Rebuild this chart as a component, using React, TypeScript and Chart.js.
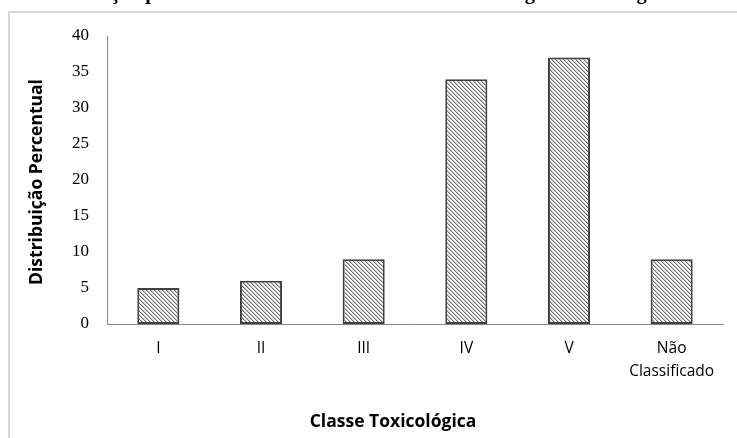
import React, { useEffect, useRef } from 'react';
import { Chart, registerables } from 'chart.js';

Chart.register(...registerables);

const categories: (string | string[])[] = ['I', 'II', 'III', 'IV', 'V', ['Não', 'Classificado']];
const values: number[] = [5, 6, 9, 34, 37, 9];
const yTicks: number[] = [0, 5, 10, 15, 20, 25, 30, 35, 40];
const chartTitle = 'Distribuição percentual dos defensivos utilizados como agrotóxicos segundo a classe toxicológica';
const xTitle = 'Classe Toxicológica';
const yTitle = 'Distribuição Percentual';

function makePattern(): CanvasPattern | string {
  const c = document.createElement('canvas');
  c.width = 4;
  c.height = 4;
  const g = c.getContext('2d');
  if (!g) return '#bbbbbb';
  g.fillStyle = '#ffffff';
  g.fillRect(0, 0, 4, 4);
  for (let i = 0; i < 4; i++) {
    g.fillStyle = '#6e6e6e';
    g.fillRect(i, i, 1, 1);
    g.fillStyle = '#c2c2c2';
    g.fillRect((i + 1) % 4, i, 1, 1);
  }
  return g.createPattern(c, 'repeat') || '#bbbbbb';
}

const decorPlugin = {
  id: 'decor',
  beforeDraw(chart: any) {
    const ctx = chart.ctx as CanvasRenderingContext2D;
    ctx.save();
    ctx.strokeStyle = '#d9d9d9';
    ctx.lineWidth = 2;
    ctx.strokeRect(9, 12, 2000, 2000);
    ctx.restore();
  },
  afterDraw(chart: any) {
    const ctx = chart.ctx as CanvasRenderingContext2D;
    ctx.save();
    // cropped chart title (only its lower part is visible)
    ctx.fillStyle = '#000000';
    ctx.font = 'bold 20.5px "Liberation Serif", "Times New Roman", serif';
    ctx.textAlign = 'left';
    ctx.textBaseline = 'alphabetic';
    ctx.fillText(chartTitle, 32, -1);

    // x axis title
    ctx.font = 'bold 17.5px "Open Sans", sans-serif';
    ctx.textAlign = 'center';
    ctx.textBaseline = 'middle';
    ctx.fillText(xTitle, 393, 422);

    // y axis title
    ctx.translate(37, 182);
    ctx.rotate(-Math.PI / 2);
    ctx.fillText(yTitle, 0, 0);
    ctx.restore();
  },
};

export default function App() {
  const ref = useRef<HTMLCanvasElement | null>(null);

  useEffect(() => {
    if (!ref.current) return;
    const pattern = makePattern();
    const chart = new Chart(ref.current, {
      type: 'bar',
      data: {
        labels: categories as any,
        datasets: [
          {
            data: values,
            backgroundColor: pattern as any,
            borderColor: '#404040',
            borderWidth: 2,
            borderSkipped: false,
            barPercentage: 0.41,
            categoryPercentage: 1.0,
          },
        ],
      },
      options: {
        responsive: false,
        animation: false,
        devicePixelRatio: 1,
        layout: { padding: { left: 0, top: 36, right: 14, bottom: 0 } },
        plugins: {
          legend: { display: false },
          tooltip: { enabled: false },
          title: { display: false },
        },
        scales: {
          x: {
            grid: { display: false, drawTicks: false },
            border: { display: true, color: '#868686', width: 1 },
            ticks: {
              color: '#000000',
              font: { family: '"Open Sans", sans-serif', size: 15.5, lineHeight: 1.45 },
              padding: 13.5,
              maxRotation: 0,
              minRotation: 0,
              autoSkip: false,
            },
            afterFit(scale: any) {
              scale.height = 438 - 324;
            },
          },
          y: {
            min: 0,
            max: 40,
            grid: { display: false, drawTicks: false },
            border: { display: true, color: '#868686', width: 1 },
            ticks: {
              color: '#000000',
              font: { family: '"Liberation Serif", "Times New Roman", serif', size: 17 },
              padding: 18,
            },
            afterBuildTicks(scale: any) {
              scale.ticks = yTicks.map((v) => ({ value: v }));
            },
            afterFit(scale: any) {
              scale.width = 107;
            },
          },
        },
      },
      plugins: [decorPlugin],
    });
    return () => chart.destroy();
  }, []);

  return (
    <div style={{ position: 'absolute', left: 0, top: 0, width: 737, height: 438, background: '#ffffff' }}>
      <canvas ref={ref} width={737} height={438} style={{ display: 'block', width: 737, height: 438 }} />
    </div>
  );
}
